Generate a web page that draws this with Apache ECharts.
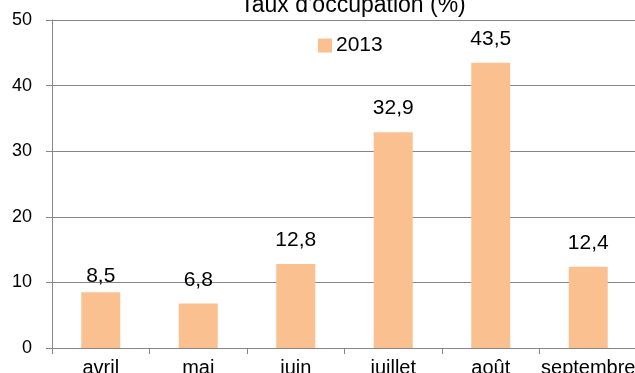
<!DOCTYPE html>
<html>
<head>
<meta charset="utf-8">
<script src="https://cdn.jsdelivr.net/npm/echarts@6/dist/echarts.min.js"></script>
<style>
  html, body { margin: 0; padding: 0; background: #fff; }
  #chart { width: 635px; height: 373px; }
</style>
</head>
<body>
<div id="chart"></div>
<script>
// Monthly occupancy rate, 2013
const months = ['avril', 'mai', 'juin', 'juillet', 'août', 'septembre'];
const occupancy2013 = [8.5, 6.8, 12.8, 32.9, 43.5, 12.4];
const yTicks = [0, 10, 20, 30, 40, 50];

const FONT = '"Liberation Sans", Arial, sans-serif';
const chart = echarts.init(document.getElementById('chart'));

// The April label sits a little closer to its bar than the others
const barData = occupancy2013.map((v, i) =>
  i === 0 ? { value: v, label: { distance: 6 } } : v
);

chart.setOption({
  animation: false,
  textStyle: { fontFamily: FONT },
  title: {
    text: 'Taux d\'occupation (%)',
    left: 348,
    textAlign: 'center',
    top: -11,
    textStyle: { fontFamily: FONT, fontSize: 23, fontWeight: 'normal', color: '#000' }
  },
  legend: {
    data: ['2013'],
    left: 318,
    top: 35,
    padding: 0,
    itemWidth: 14,
    itemHeight: 14,
    icon: 'rect',
    textStyle: { fontFamily: FONT, fontSize: 21, color: '#000', padding: [0, 0, 0, -1] }
  },
  grid: {
    left: 52, right: -2, top: 20, bottom: 25,
    containLabel: false,
    outerBoundsMode: 'none'
  },
  xAxis: {
    type: 'category',
    data: months,
    boundaryGap: true,
    axisLine: { show: true, lineStyle: { color: '#868686', width: 1 } },
    axisTick: { show: true, length: 6, lineStyle: { color: '#868686' } },
    axisLabel: { color: '#000', fontSize: 20, fontFamily: FONT, margin: 10, interval: 0 }
  },
  yAxis: {
    type: 'value',
    min: yTicks[0],
    max: yTicks[yTicks.length - 1],
    interval: 10,
    axisLine: { show: true, lineStyle: { color: '#868686', width: 1 } },
    axisTick: { show: true, length: 6, lineStyle: { color: '#868686' } },
    axisLabel: { color: '#000', fontSize: 18, fontFamily: FONT, margin: 20 },
    splitLine: { show: true, lineStyle: { color: '#868686', width: 1 } }
  },
  series: [{
    name: '2013',
    type: 'bar',
    data: barData,
    barWidth: 39,
    itemStyle: { color: '#FAC090' },
    label: {
      show: true,
      position: 'top',
      distance: 13,
      color: '#000',
      fontSize: 21,
      fontFamily: FONT,
      formatter: p => String(p.value).replace('.', ',')
    }
  }]
});
</script>
</body>
</html>
